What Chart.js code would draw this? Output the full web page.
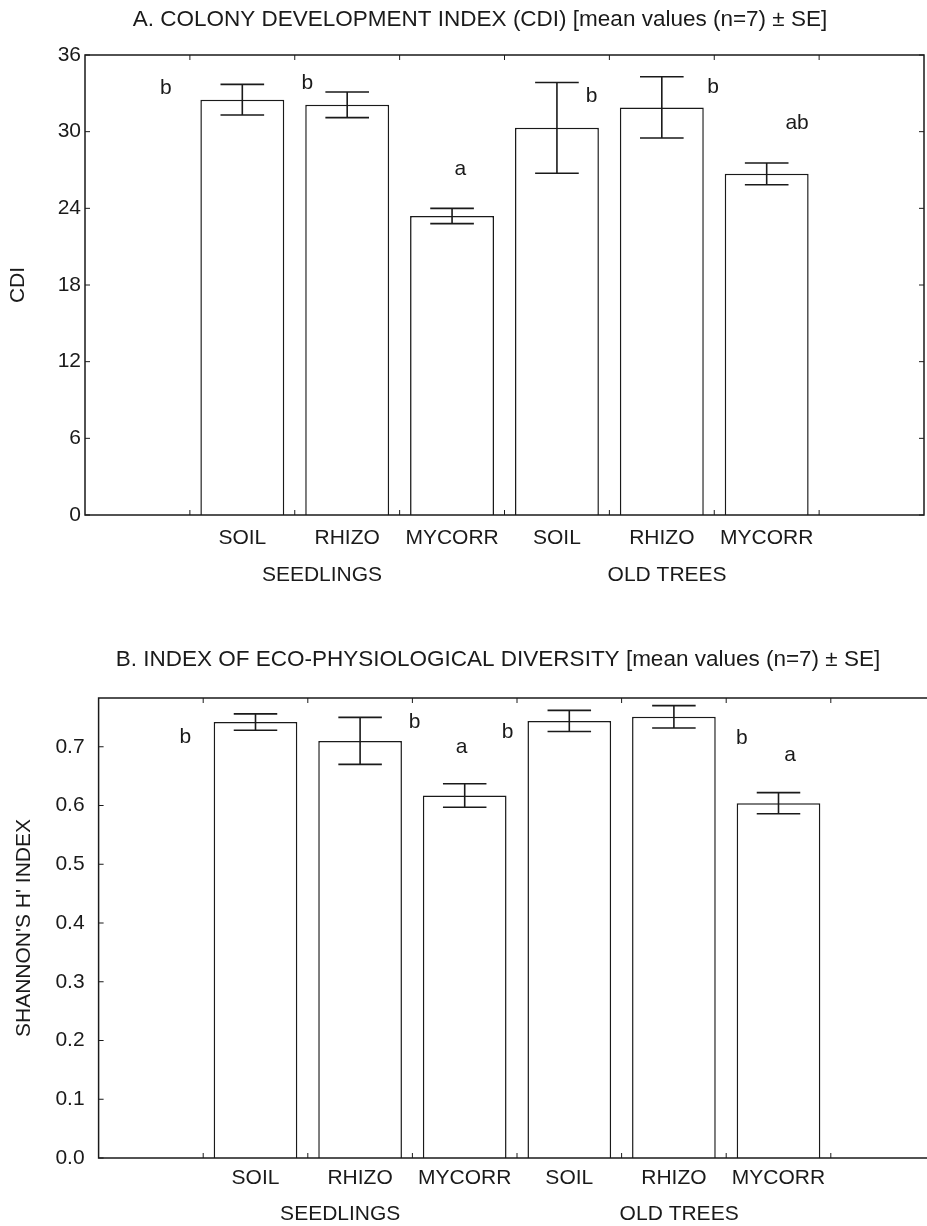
<!DOCTYPE html>
<html>
<head>
<meta charset="utf-8">
<script src="https://cdn.jsdelivr.net/npm/chart.js@4.4.1/dist/chart.umd.min.js"></script>
<style>
  html, body { margin: 0; padding: 0; background: #fff; overflow: hidden; }
  body { width: 927px; height: 1226px; position: relative; }
  .panel { position: absolute; left: 0; }
  #panelA { top: 0; }
  #panelB { top: 620px; }
</style>
</head>
<body>
<div class="panel" id="panelA"><canvas id="chart-cdi" width="927" height="620"></canvas></div>
<div class="panel" id="panelB"><canvas id="chart-shannon" width="940" height="606"></canvas></div>
<script>
// ── Data ─────────────────────────────────────────────
const categories = ['', 'SOIL', 'RHIZO', 'MYCORR', 'SOIL', 'RHIZO', 'MYCORR', ''];
const groups = ['SEEDLINGS', 'OLD TREES'];

const cdiMean = [32.5, 32.1, 23.4, 30.3, 31.9, 26.7];
const cdiSE = [1.2, 1.0, 0.6, 3.55, 2.4, 0.85];
const cdiLetters = ['b', 'b', 'a', 'b', 'b', 'ab'];
const cdiTicks = [0, 6, 12, 18, 24, 30, 36];

const shannonMean = [0.742, 0.710, 0.617, 0.744, 0.751, 0.604];
const shannonSE = [0.014, 0.040, 0.020, 0.018, 0.019, 0.018];
const shannonLetters = ['b', 'b', 'a', 'b', 'b', 'a'];
const shannonTicks = [0, 0.1, 0.2, 0.3, 0.4, 0.5, 0.6, 0.7];

// ── Placement (category offset, y value) ─────────────
const cdiLetterPos = [[-0.73, 33.4], [-0.38, 33.8], [0.08, 27.1], [0.33, 32.8], [0.49, 33.5], [0.29, 30.7]];
const shannonLetterPos = [[-0.67, 0.717], [0.52, 0.741], [-0.03, 0.700], [-0.59, 0.724], [0.65, 0.714], [0.11, 0.685]];
const cdiGroupAt = [1.76, 5.05];
const shannonGroupAt = [1.81, 5.05];

const FONT = "'Liberation Sans', Arial, Helvetica, sans-serif";
const INK = '#1a1a1a';

const pad = arr => [null, ...arr, null];

// ── Plugins ──────────────────────────────────────────
const framePlugin = {
  id: 'frame',
  afterDatasetsDraw(chart) {
    const { ctx, chartArea: a, scales: { x, y } } = chart;
    ctx.save();
    ctx.strokeStyle = INK;
    ctx.lineWidth = 1.5;
    ctx.strokeRect(a.left, a.top, a.right - a.left, a.bottom - a.top);
    ctx.lineWidth = 1;
    const seg = (x1, y1, x2, y2) => { ctx.beginPath(); ctx.moveTo(x1, y1); ctx.lineTo(x2, y2); ctx.stroke(); };
    for (let i = 1; i < categories.length; i++) {
      const px = (x.getPixelForValue(i - 1) + x.getPixelForValue(i)) / 2;
      seg(px, a.top, px, a.top + 5);
      seg(px, a.bottom, px, a.bottom - 5);
    }
    y.ticks.forEach(t => {
      const py = y.getPixelForValue(t.value);
      seg(a.left, py, a.left + 5, py);
      seg(a.right, py, a.right - 5, py);
    });
    ctx.restore();
  }
};

const errorPlugin = {
  id: 'errorLetters',
  afterDatasetsDraw(chart, args, opts) {
    const { ctx, scales: { x, y } } = chart;
    const meta = chart.getDatasetMeta(0);
    const values = chart.data.datasets[0].data;
    const slot = x.getPixelForValue(1) - x.getPixelForValue(0);
    ctx.save();
    ctx.strokeStyle = INK;
    ctx.lineWidth = 1.6;
    meta.data.forEach((bar, i) => {
      const se = opts.se[i];
      if (se == null) return;
      const v = values[i];
      const yTop = y.getPixelForValue(v + se);
      const yBot = y.getPixelForValue(v - se);
      const cap = bar.width * 0.26;
      ctx.beginPath();
      ctx.moveTo(bar.x, yTop); ctx.lineTo(bar.x, yBot);
      ctx.moveTo(bar.x - cap, yTop); ctx.lineTo(bar.x + cap, yTop);
      ctx.moveTo(bar.x - cap, yBot); ctx.lineTo(bar.x + cap, yBot);
      ctx.stroke();
    });
    ctx.fillStyle = INK;
    ctx.font = `21px ${FONT}`;
    ctx.textAlign = 'center';
    ctx.textBaseline = 'middle';
    opts.letters.forEach((txt, i) => {
      const [dx, yv] = opts.pos[i];
      ctx.fillText(txt, x.getPixelForValue(i + 1) + dx * slot, y.getPixelForValue(yv));
    });
    ctx.restore();
  }
};

const labelPlugin = {
  id: 'panelLabels',
  afterDraw(chart, args, opts) {
    const { ctx, scales: { x } } = chart;
    ctx.save();
    ctx.fillStyle = INK;
    ctx.textAlign = 'center';
    ctx.textBaseline = 'middle';
    ctx.font = `22.5px ${FONT}`;
    ctx.fillText(opts.title, opts.titleX, opts.titleY);
    ctx.font = `21px ${FONT}`;
    opts.groups.forEach((g, i) => {
      ctx.fillText(g, x.getPixelForValue(opts.groupAt[i]), x.top + opts.groupDy);
    });
    ctx.restore();
  }
};

// ── Chart builder ────────────────────────────────────
function buildChart(id, cfg) {
  return new Chart(document.getElementById(id), {
    type: 'bar',
    data: {
      labels: categories,
      datasets: [{
        data: pad(cfg.mean),
        backgroundColor: '#ffffff',
        borderColor: INK,
        borderWidth: 1.5,
        barPercentage: 0.8,
        categoryPercentage: 1,
      }]
    },
    options: {
      responsive: false,
      animation: false,
      layout: { padding: { top: cfg.top, right: cfg.right, bottom: 0, left: 0 } },
      plugins: {
        legend: { display: false },
        tooltip: { enabled: false },
        errorLetters: { se: pad(cfg.se), letters: cfg.letters, pos: cfg.letterPos },
        panelLabels: { title: cfg.title, titleX: cfg.titleX, titleY: cfg.titleY, groups, groupAt: cfg.groupAt, groupDy: cfg.groupDy },
      },
      scales: {
        x: {
          grid: { display: false },
          border: { display: false },
          ticks: { color: INK, font: { family: FONT, size: 21 }, padding: cfg.xPad, maxRotation: 0, autoSkip: false },
          afterFit: s => { s.height = cfg.xHeight; },
        },
        y: {
          min: 0,
          max: cfg.max,
          grid: { display: false },
          border: { display: false },
          afterBuildTicks: s => { s.ticks = cfg.ticks.map(v => ({ value: v })); },
          ticks: { color: INK, font: { family: FONT, size: 21 }, padding: cfg.yPad, callback: cfg.fmt },
          title: { display: true, text: cfg.yTitle, color: INK, font: { family: FONT, size: 21 }, padding: { top: cfg.yTitlePad, bottom: 0 } },
          afterFit: s => { s.width = cfg.yWidth; },
        }
      }
    },
    plugins: [framePlugin, errorPlugin, labelPlugin]
  });
}

buildChart('chart-cdi', {
  mean: cdiMean, se: cdiSE, letters: cdiLetters, letterPos: cdiLetterPos,
  ticks: cdiTicks, max: 36, fmt: v => String(v), yTitle: 'CDI',
  title: 'A. COLONY DEVELOPMENT INDEX (CDI) [mean values (n=7) ± SE]', titleX: 480, titleY: 20,
  top: 55, right: 3, xHeight: 105, xPad: 3, yPad: -4, yWidth: 85, yTitlePad: 6,
  groupAt: cdiGroupAt, groupDy: 60,
});

buildChart('chart-shannon', {
  mean: shannonMean, se: shannonSE, letters: shannonLetters, letterPos: shannonLetterPos,
  ticks: shannonTicks, max: 0.783, fmt: v => v.toFixed(1), yTitle: "SHANNON'S H' INDEX",
  title: 'B. INDEX OF ECO-PHYSIOLOGICAL DIVERSITY [mean values (n=7) ± SE]', titleX: 498, titleY: 40,
  top: 78, right: 4.6, xHeight: 68, xPad: 0, yPad: 6, yWidth: 98.6, yTitlePad: 12,
  groupAt: shannonGroupAt, groupDy: 56,
});
</script>
</body>
</html>
